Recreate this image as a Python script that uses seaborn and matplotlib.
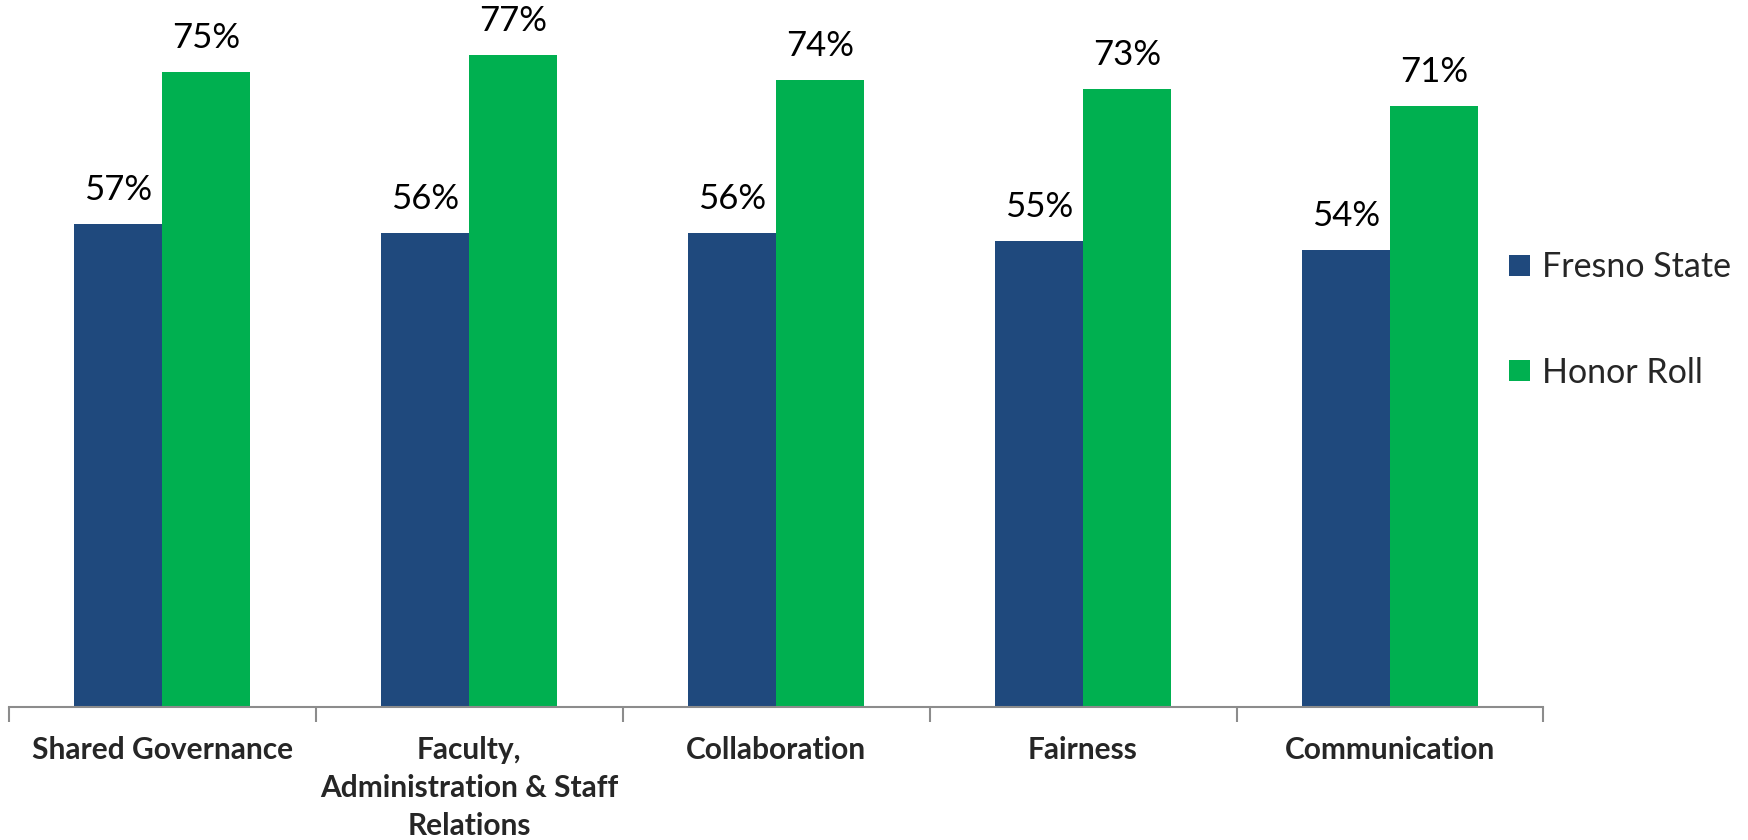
import pandas as pd
import matplotlib.pyplot as plt
import seaborn as sns
from matplotlib.ticker import FixedLocator

categorias = ["Shared Governance", "Faculty,\nAdministration & Staff\nRelations",
              "Collaboration", "Fairness", "Communication"]
fresno_state = [57, 56, 56, 55, 54]
honor_roll = [75, 77, 74, 73, 71]
series = ["Fresno State", "Honor Roll"]
colores = ["#1F497D", "#00B050"]

df = pd.DataFrame({
    "categoria": categorias * 2,
    "serie": [series[0]] * 5 + [series[1]] * 5,
    "valor": fresno_state + honor_roll,
})

sns.set_theme(style="white")
plt.rcParams['font.family'] = ['Lato', 'DejaVu Sans']

fig = plt.figure(figsize=(17.48, 8.4), dpi=100)
ax = fig.add_axes([0.005, 0.158, 0.878, 0.842])

sns.barplot(data=df, x="categoria", y="valor", hue="serie", palette=colores,
            saturation=1, width=0.574, gap=0, linewidth=0, ax=ax, legend=True)

for cont in ax.containers:
    ax.bar_label(cont, fmt='%d%%', padding=13, fontsize=25, color='black')

ax.set_ylim(0, 83.5)
ax.set_xlim(-0.5, 4.5)
ax.set_xlabel("")
ax.set_ylabel("")
ax.set_yticks([])

for lado in ['left', 'top', 'right']:
    ax.spines[lado].set_visible(False)
ax.spines['bottom'].set_color('#8c8c8c')
ax.spines['bottom'].set_linewidth(1.5)

ax.tick_params(axis='x', which='major', length=0, pad=21, labelsize=21.5)
ax.xaxis.set_minor_locator(FixedLocator([-0.5, 0.5, 1.5, 2.5, 3.5, 4.5]))
ax.tick_params(axis='x', which='minor', bottom=True, length=11, width=1.5, color='#8c8c8c')
for t in ax.get_xticklabels():
    t.set_fontweight('bold')
    t.set_verticalalignment('top')
    t.set_multialignment('center')
    t.set_linespacing(1.42)

ax.legend(loc='center left', bbox_to_anchor=(0.846, 0.619), bbox_transform=fig.transFigure,
          frameon=False, prop={'family': ['Lato', 'DejaVu Sans'], 'size': 24.5},
          handlelength=0.6, handleheight=0.6, handletextpad=0.35, labelspacing=2.15)

plt.savefig("out.png", dpi=100)
